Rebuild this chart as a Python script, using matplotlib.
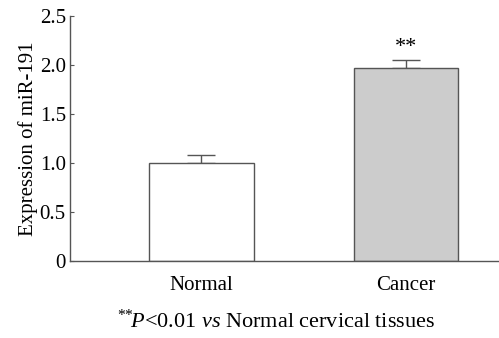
import matplotlib
matplotlib.use("Agg")
import matplotlib.pyplot as plt

groups = ["Normal", "Cancer"]
values = [1.0, 1.97]
errors = [0.08, 0.08]
colors = ["white", "#cccccc"]
yticks = [0, 0.5, 1.0, 1.5, 2.0, 2.5]
ytick_labels = ["0", "0.5", "1.0", "1.5", "2.0", "2.5"]

plt.rcParams.update({"font.family": "Liberation Serif", "font.size": 15,
                     "mathtext.fontset": "custom", "mathtext.rm": "Liberation Serif",
                     "mathtext.it": "Liberation Serif:italic"})

fig = plt.figure(figsize=(4.99, 3.38), dpi=100)
ax = fig.add_axes([70 / 499, 77 / 338, 429 / 499, 245 / 338])
edge = "#555555"
x = list(range(len(groups)))
ax.bar(x, values, width=0.513, color=colors, edgecolor=edge, linewidth=1.0, zorder=2)
ax.errorbar(x, values, yerr=[[0, 0], errors], fmt="none", ecolor=edge,
            elinewidth=1.0, capsize=10, capthick=1.0, zorder=1)
ax.text(1, values[1] + errors[1] + 0.03, "**", ha="center", va="bottom", fontsize=16)

ax.set_xlim(-0.643, 1.455)
ax.set_ylim(0, 2.5)
ax.set_yticks(yticks)
ax.set_yticklabels(ytick_labels)
ax.set_xticks(x)
ax.set_xticklabels(groups)
ax.tick_params(axis="y", direction="in", length=3, color=edge, pad=3)
ax.tick_params(axis="x", length=0, pad=11)
for s in ["top", "right"]:
    ax.spines[s].set_visible(False)
for s in ["left", "bottom"]:
    ax.spines[s].set_color(edge)
    ax.spines[s].set_linewidth(1.0)
ax.set_ylabel("Expression of miR-191", labelpad=1)

fig.text(0.553, 0.05, r"$^{{*}{*}}\!\mathit{P}$<0.01 $\mathit{vs}$ Normal cervical tissues",
         ha="center", va="center", fontsize=16)

plt.savefig("out.png", dpi=100)
